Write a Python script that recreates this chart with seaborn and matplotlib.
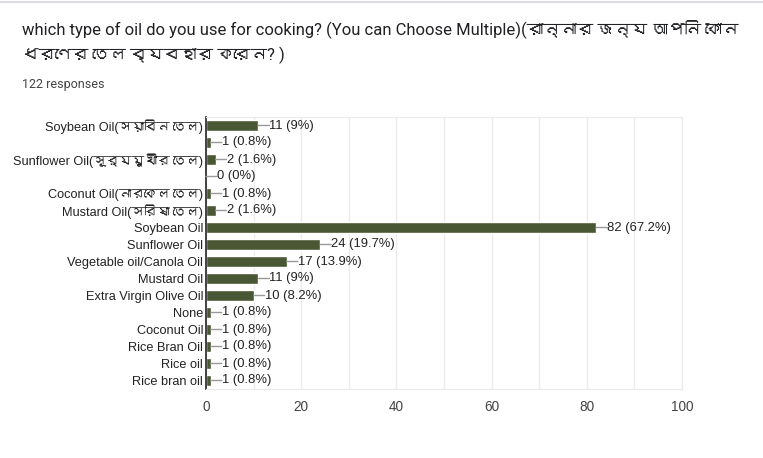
import matplotlib
matplotlib.use("Agg")
import matplotlib.pyplot as plt
from matplotlib import font_manager
from matplotlib.ft2font import FT2Font
import seaborn as sns
import pandas as pd

# answers as they appear in the form (two options had no label)
options = [
    "Soybean Oil(সয়াবিন তেল)", "blank1", "Sunflower Oil(সূর্যমুখীর তেল)", "blank2",
    "Coconut Oil(নারকেল তেল)", "Mustard Oil(সরিষা তেল)", "Soybean Oil",
    "Sunflower Oil", "Vegetable oil/Canola Oil", "Mustard Oil",
    "Extra Virgin Olive Oil", "None", "Coconut Oil", "Rice Bran Oil",
    "Rice oil", "Rice bran oil",
]
tick_labels = [
    "Soybean Oil(সয়াবিন তেল)", "", "Sunflower Oil(সূর্যমুখীর তেল)", "",
    "Coconut Oil(নারকেল তেল)", "Mustard Oil(সরিষা তেল)", "Soybean Oil",
    "Sunflower Oil", "Vegetable oil/Canola Oil", "Mustard Oil",
    "Extra Virgin Olive Oil", "None", "Coconut Oil", "Rice Bran Oil",
    "Rice oil", "Rice bran oil",
]
counts = [11, 1, 2, 0, 1, 2, 82, 24, 17, 11, 10, 1, 1, 1, 1, 1]
total_responses = 122
x_ticks = [0, 20, 40, 60, 80, 100]

title = ("which type of oil do you use for cooking? (You can Choose Multiple)"
         "(রান্নার জন্য আপনি কোন\nধরণের তেল ব্যবহার করেন? )")

df = pd.DataFrame({"option": options, "count": counts})


# look for any installed font that can draw Bengali
def bengali_font():
    for f in font_manager.fontManager.ttflist:
        try:
            if 0x09B0 in FT2Font(f.fname).get_charmap():
                return f.name
        except Exception:
            pass
    return None


sns.set_style("white")
bn = bengali_font()
families = ["Liberation Sans"] + ([bn] if bn else []) + ["DejaVu Sans"]
plt.rcParams["font.family"] = families

fig = plt.figure(figsize=(7.63, 4.58), dpi=100)
ax = fig.add_axes([206 / 763, 1 - 389 / 458, 476 / 763, 272 / 458])

sns.barplot(data=df, x="count", y="option", orient="h", color="#4a5734",
            width=0.64, saturation=1, ax=ax)

ax.set_xlim(0, 100)
ax.set_xticks(x_ticks)
ax.set_xticks(range(10, 100, 20), minor=True)
ax.grid(axis="x", which="both", color="#ebebeb", linewidth=1)
ax.set_axisbelow(True)
ax.set_yticks(range(len(tick_labels)))
ax.set_yticklabels(tick_labels)
ax.tick_params(axis="y", length=0, pad=2, labelsize=9.2, labelcolor="#222222")
ax.tick_params(axis="x", which="both", length=0, pad=8, labelsize=9.8,
               labelcolor="#444444")
ax.set_xlabel("")
ax.set_ylabel("")
for side in ["top", "right", "bottom"]:
    ax.spines[side].set_color("#ebebeb")
ax.spines["left"].set_color("#333333")
ax.spines["left"].set_linewidth(1.3)

# value labels with a short leader line, like the Forms summary chart
for i, c in enumerate(counts):
    pct = f"{c / total_responses * 100:.1f}".rstrip("0").rstrip(".")
    ax.annotate(f"{c} ({pct}%)", xy=(c, i), xytext=(11, 0),
                textcoords="offset pixels", ha="left", va="center",
                fontsize=9.4, color="#222222",
                arrowprops=dict(arrowstyle="-", color="#999999", lw=1,
                                relpos=(0, 0.5), patchA=None,
                                shrinkA=0, shrinkB=0))

fig.text(22 / 763, 1 - 20 / 458, title, ha="left", va="top", fontsize=12,
         color="#202124", linespacing=1.6,
         family=["Roboto"] + families[1:])
fig.text(22 / 763, 1 - 85 / 458, f"{total_responses} responses", ha="left",
         va="center", fontsize=9, color="#444444", family="Roboto")
fig.add_artist(plt.Line2D([0, 1], [1 - 1.5 / 458] * 2, color="#dadce0",
                          linewidth=1.5))

plt.savefig("out.png", dpi=100)
